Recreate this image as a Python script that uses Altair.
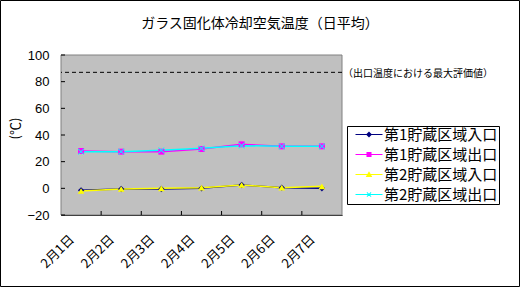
import altair as alt
import pandas as pd

# ---- data ----
days = ["2月1日", "2月2日", "2月3日", "2月4日", "2月5日", "2月6日", "2月7日"]
series = ["第1貯蔵区域入口", "第1貯蔵区域出口", "第2貯蔵区域入口", "第2貯蔵区域出口"]
s1_in = [-1.5, -0.5, -0.5, 0.0, 2.5, 0.5, 0.0]
s1_out = [28.0, 27.5, 27.5, 29.5, 33.0, 31.5, 31.5]
s2_in = [-2.0, -0.5, 0.0, 0.5, 2.5, 0.5, 1.5]
s2_out = [27.5, 27.5, 28.5, 30.0, 32.0, 31.5, 31.5]
yticks = [-20, 0, 20, 40, 60, 80, 100]
max_eval = [87]
max_eval_label = "（出口温度における最大評価値）"
title_text = "ガラス固化体冷却空気温度（日平均）"
y_title = "(℃)"
colors = ["#000080", "#FF00FF", "#FFFF00", "#00FFFF"]

JP = "Noto Sans CJK JP"
NUM = "Liberation Sans"

rows = []
for name, vals in zip(series, [s1_in, s1_out, s2_in, s2_out]):
    for d, v in zip(days, vals):
        rows.append({"day": d, "series": name, "value": v})
df = pd.DataFrame(rows)

W, H = 281, 160

xscale = alt.Scale(type="band", domain=days, paddingInner=0, paddingOuter=0)
yscale = alt.Scale(domain=[-20, 100], nice=False, zero=False)
cscale = alt.Scale(domain=series, range=colors)

x_axis = alt.Axis(title=None, ticks=False, tickSize=0, domainColor="black",
                  labelAngle=-45, labelAlign="right", labelBaseline="middle",
                  labelFont=JP, labelFontSize=13, labelColor="black",
                  labelPadding=22, labelOffset=-9, labelOverlap=False)
y_axis = alt.Axis(values=yticks, grid=False, ticks=False, tickSize=0,
                  domainColor="black", labelFont=NUM, labelFontSize=13,
                  labelColor="black", labelPadding=12, labelOverlap=False,
                  labelFlush=False,
                  title=y_title, titleFont=JP, titleFontSize=13,
                  titleFontWeight="normal", titleColor="black",
                  titleAngle=-90, titleX=-46, titleY=73,
                  titleAlign="center", titleBaseline="middle")


def X(field, **kw):
    return alt.X(field, scale=xscale, axis=x_axis, title=None, **kw)


def Y(field):
    return alt.Y(field, scale=yscale, axis=y_axis, title=y_title)


base = alt.Chart(df)

# legend layer (draws no marks; supplies the legend with line+marker symbols)
line_part = "M0,-0.09H4.5V0.09H0Z"
legend_paths = [
    line_part + " M2.25,-0.5L2.75,0L2.25,0.5L1.75,0Z",
    line_part + " M1.83,-0.42H2.67V0.42H1.83Z",
    line_part + " M2.25,-0.55L2.8,0.42L1.7,0.42Z",
    line_part + " M1.85,-0.3L1.95,-0.4L2.65,0.3L2.55,0.4Z M2.55,-0.4L2.65,-0.3L1.95,0.4L1.85,0.3Z",
]
leg = alt.Legend(title=None, orient="none", legendX=286, legendY=71,
                 direction="vertical", strokeColor="black", padding=1,
                 fillColor="white",
                 labelFont=JP, labelFontSize=15, labelColor="black",
                 symbolSize=144, symbolStrokeWidth=0, symbolOpacity=1,
                 labelOffset=21, rowPadding=4)
legend_layer = base.transform_filter("false").mark_point(filled=True).encode(
    x=X("day:N"), y=Y("value:Q"),
    color=alt.Color("series:N", scale=cscale, legend=leg),
    shape=alt.Shape("series:N", scale=alt.Scale(domain=series, range=legend_paths), legend=leg),
)

# plot-area background (gray fill, gray frame)
bg = alt.Chart(pd.DataFrame({"a": [0]})).mark_rect(
    fill="#C0C0C0", stroke="#808080", strokeWidth=1).encode(
    x=alt.value(0), x2=alt.value(W), y=alt.value(0), y2=alt.value(H))

lines = base.mark_line(strokeWidth=1.5).encode(
    x=X("day:N"), y=Y("value:Q"),
    color=alt.Color("series:N", scale=cscale),
    detail="series:N",
)

xpath = "M-1,-0.8L-0.8,-1L1,0.8L0.8,1Z M0.8,-1L1,-0.8L-0.8,1L-1,0.8Z"
marker_shapes = ["diamond", "square", "triangle-up", xpath]
marker_sizes = [40, 36, 44, 40]
point_layers = []
for name, shp, sz in zip(series, marker_shapes, marker_sizes):
    point_layers.append(
        base.transform_filter(alt.datum.series == name)
        .mark_point(filled=True, shape=shp, size=sz, opacity=1)
        .encode(x=X("day:N"), y=Y("value:Q"),
                color=alt.Color("series:N", scale=cscale))
    )

ytick_df = pd.DataFrame({"value": yticks})
ytick_rules = alt.Chart(ytick_df).mark_rule(color="black", strokeWidth=1).encode(
    y=Y("value:Q"), x=alt.value(0), x2=alt.value(4))

xtick_df = pd.DataFrame({"day": days[1:]})
xtick_rules = alt.Chart(xtick_df).mark_rule(color="black", strokeWidth=1).encode(
    x=X("day:N", bandPosition=0), y=alt.value(H - 4), y2=alt.value(H))

ref_df = pd.DataFrame({"value": max_eval, "label": [max_eval_label]})
ref_rule = alt.Chart(ref_df).mark_rule(color="black", strokeWidth=1, strokeDash=[4, 3]).encode(
    y=Y("value:Q"))
ref_text = alt.Chart(ref_df).mark_text(align="left", baseline="middle", font=JP,
                                       fontSize=10, color="black", dy=2).encode(
    y=Y("value:Q"), x=alt.value(W + 1), text="label:N")

title_df = pd.DataFrame({"t": [title_text]})
title_mark = alt.Chart(title_df).mark_text(align="center", baseline="middle", font=JP,
                                           fontSize=14, color="black").encode(
    x=alt.value(199), y=alt.value(-31), text="t:N")

frame = alt.Chart(pd.DataFrame({"a": [0]})).mark_rect(
    filled=False, color="black", strokeWidth=1).encode(
    x=alt.value(-60.5), x2=alt.value(458.5), y=alt.value(-54.5), y2=alt.value(231.5))

chart = alt.layer(
    legend_layer, bg, ytick_rules, xtick_rules, ref_rule, ref_text,
    lines, *point_layers, title_mark, frame,
).properties(
    width=W, height=H,
    autosize="none",
    padding={"left": 61, "top": 55, "right": 520 - 61 - W, "bottom": 288 - 55 - H},
    background="white",
).configure_view(stroke=None)

chart.save("out.html", embed_options={"renderer": "svg", "actions": False})
